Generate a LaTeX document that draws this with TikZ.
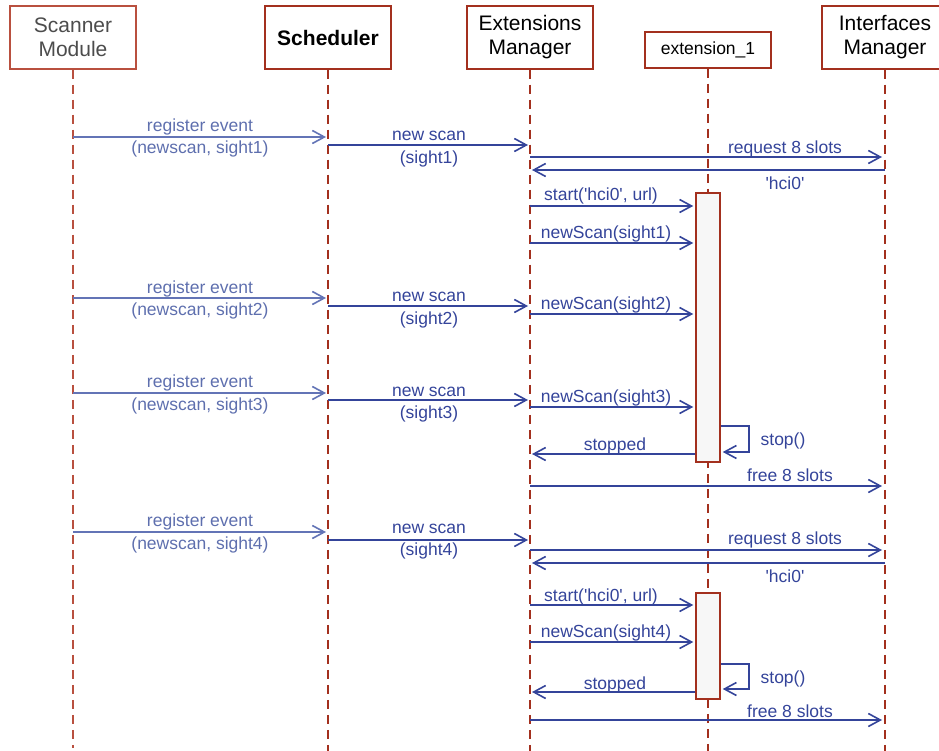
\documentclass[tikz,border=0pt]{standalone}
\usepackage{fontspec}
\setmainfont{Liberation Sans}
\usetikzlibrary{arrows.meta}
\definecolor{life}{HTML}{A3301E}
\definecolor{lifelight}{HTML}{B9503F}
\definecolor{msgc}{HTML}{34449A}
\definecolor{msglight}{HTML}{6374B6}
\definecolor{txtlight}{HTML}{5E6FAE}
\definecolor{barfill}{HTML}{F7F7F7}
\newcommand{\sq}{\textquotesingle}
\tikzset{
  hdr/.style={draw=life, line width=1.5pt, fill=white, minimum width=126pt,
    minimum height=63pt, align=center, inner sep=0pt,
    font=\fontsize{21}{24}\selectfont},
  lifeline/.style={draw=life, line width=1.5pt, dash pattern=on 9pt off 6pt},
  actbar/.style={draw=life, line width=1.5pt, fill=barfill, minimum width=24pt,
    inner sep=0pt},
  msg/.style={draw=msgc, line width=1.6pt,
    -{Straight Barb[length=12pt,width=13pt,line width=1.6pt]}},
  msgl/.style={msg, draw=msglight},
  lbl/.style={text=msgc, font=\fontsize{17.5}{20}\selectfont, inner sep=0pt,
    yshift=-1.5pt},
  lbll/.style={lbl, text=txtlight}
}
\begin{document}
\begin{tikzpicture}[x=1pt,y=-1pt]
\useasboundingbox (0,0) rectangle (939,751);

% participants
\node[hdr, draw=lifelight, text=black!70] (scan) at (73,37.5) {Scanner\\Module};
\node[hdr, font=\fontsize{21}{24}\selectfont\bfseries] (sched) at (328,37.5) {Scheduler};
\node[hdr] (extm) at (530,37.5) {Extensions\\Manager};
\node[hdr, minimum height=36pt, font=\fontsize{17.5}{20}\selectfont] (ext1) at (708,50) {extension\_1};
\node[hdr] (ifm) at (885,37.5) {Interfaces\\Manager};

% lifelines
\draw[lifeline, draw=lifelight] (scan.south) -- (scan.south |- 0,748);
\draw[lifeline] (sched.south) -- (sched.south |- 0,751);
\draw[lifeline] (extm.south) -- (extm.south |- 0,751);
\draw[lifeline] (ext1.south) -- (ext1.south |- 0,751);
\draw[lifeline] (ifm.south) -- (ifm.south |- 0,751);

% activation bars of extension_1
\node[actbar, minimum height=269pt] (act1) at (708,327.5) {};
\node[actbar, minimum height=106pt] (act2) at (708,646) {};

% first scan
\draw[msgl] (scan.south |- 0,137) -- ([xshift=-2pt]sched.south |- 0,137);
\node[lbll] at (200,125) {register event};
\node[lbll] at (200,147) {(newscan, sight1)};
\draw[msg] (sched.south |- 0,145) -- ([xshift=-2pt]extm.south |- 0,145);
\node[lbl] at (429,134) {new scan};
\node[lbl] at (429,157) {(sight1)};
\draw[msg] (extm.south |- 0,157) -- ([xshift=-3pt]ifm.south |- 0,157);
\node[lbl] at (785,147) {request 8 slots};
\draw[msg] (ifm.south |- 0,170) -- ([xshift=2pt]extm.south |- 0,170);
\node[lbl] at (785,182) {\sq hci0\sq};
\draw[msg] (extm.south |- 0,206) -- ([xshift=-2pt]act1.west |- 0,206);
\node[lbl] at (601,194) {start(\sq hci0\sq, url)};
\draw[msg] (extm.south |- 0,243) -- ([xshift=-2pt]act1.west |- 0,243);
\node[lbl] at (606,232) {newScan(sight1)};

% second scan
\draw[msgl] (scan.south |- 0,298) -- ([xshift=-2pt]sched.south |- 0,298);
\node[lbll] at (200,287) {register event};
\node[lbll] at (200,309) {(newscan, sight2)};
\draw[msg] (sched.south |- 0,306) -- ([xshift=-2pt]extm.south |- 0,306);
\node[lbl] at (429,295) {new scan};
\node[lbl] at (429,318) {(sight2)};
\draw[msg] (extm.south |- 0,314) -- ([xshift=-2pt]act1.west |- 0,314);
\node[lbl] at (606,303) {newScan(sight2)};

% third scan
\draw[msgl] (scan.south |- 0,393) -- ([xshift=-2pt]sched.south |- 0,393);
\node[lbll] at (200,381) {register event};
\node[lbll] at (200,404) {(newscan, sight3)};
\draw[msg] (sched.south |- 0,400) -- ([xshift=-2pt]extm.south |- 0,400);
\node[lbl] at (429,390) {new scan};
\node[lbl] at (429,412) {(sight3)};
\draw[msg] (extm.south |- 0,407) -- ([xshift=-2pt]act1.west |- 0,407);
\node[lbl] at (606,396) {newScan(sight3)};
\draw[msg] (act1.east |- 0,426) -- (749,426) -- (749,452) -- ([xshift=2pt]act1.east |- 0,452);
\node[lbl] at (783,439) {stop()};
\draw[msg] (act1.west |- 0,454) -- ([xshift=2pt]extm.south |- 0,454);
\node[lbl] at (615,444) {stopped};
\draw[msg] (extm.south |- 0,486) -- ([xshift=-3pt]ifm.south |- 0,486);
\node[lbl] at (790,474) {free 8 slots};

% fourth scan
\draw[msgl] (scan.south |- 0,532) -- ([xshift=-2pt]sched.south |- 0,532);
\node[lbll] at (200,520) {register event};
\node[lbll] at (200,543) {(newscan, sight4)};
\draw[msg] (sched.south |- 0,540) -- ([xshift=-2pt]extm.south |- 0,540);
\node[lbl] at (429,527) {new scan};
\node[lbl] at (429,549) {(sight4)};
\draw[msg] (extm.south |- 0,550) -- ([xshift=-3pt]ifm.south |- 0,550);
\node[lbl] at (785,538) {request 8 slots};
\draw[msg] (ifm.south |- 0,563) -- ([xshift=2pt]extm.south |- 0,563);
\node[lbl] at (785,575) {\sq hci0\sq};
\draw[msg] (extm.south |- 0,605) -- ([xshift=-2pt]act2.west |- 0,605);
\node[lbl] at (601,595) {start(\sq hci0\sq, url)};
\draw[msg] (extm.south |- 0,642) -- ([xshift=-2pt]act2.west |- 0,642);
\node[lbl] at (606,631) {newScan(sight4)};
\draw[msg] (act2.east |- 0,664) -- (749,664) -- (749,689) -- ([xshift=2pt]act2.east |- 0,689);
\node[lbl] at (783,677) {stop()};
\draw[msg] (act2.west |- 0,692) -- ([xshift=2pt]extm.south |- 0,692);
\node[lbl] at (615,683) {stopped};
\draw[msg] (extm.south |- 0,720) -- ([xshift=-3pt]ifm.south |- 0,720);
\node[lbl] at (790,710) {free 8 slots};
\end{tikzpicture}
\end{document}
